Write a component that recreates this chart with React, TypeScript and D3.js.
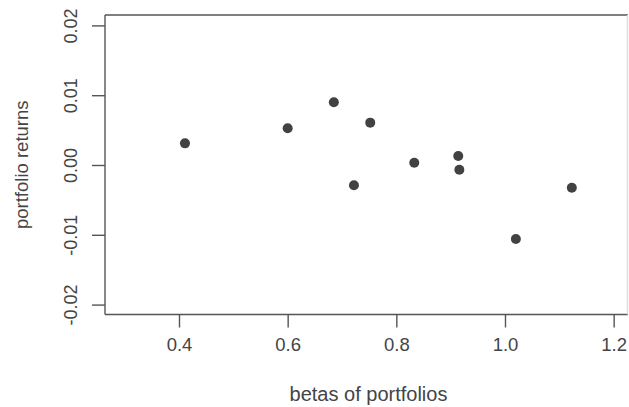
import React, { useEffect, useRef } from 'react'
import * as d3 from 'd3'

// betas and returns of the ten portfolios
const betas = [0.411, 0.6, 0.685, 0.722, 0.752, 0.833, 0.914, 0.916, 1.02, 1.123]
const returns = [0.0031, 0.00526, 0.009, -0.0029, 0.00607, 0.00033, 0.00129, -0.00067, -0.0106, -0.00325]

const xTicks = [0.4, 0.6, 0.8, 1.0, 1.2]
const yTicks = [-0.02, -0.01, 0.0, 0.01, 0.02]

const W = 629
const H = 407
const INK = '#444'
const FONT = '"Liberation Sans", Arial, sans-serif'

const App = () => {
  const ref = useRef<SVGSVGElement>(null)

  useEffect(() => {
    const svg = d3.select(ref.current)
    svg.selectAll('*').remove()

    const left = 105,
      right = 628,
      top = 15,
      bottom = 314.5

    const x = d3.scaleLinear().domain([0.2638, 1.2264]).range([left, right])
    const y = d3.scaleLinear().domain([-0.02142, 0.02149]).range([bottom, top])

    svg.append('rect').attr('width', W).attr('height', H).attr('fill', '#fff')

    // plot box (right edge is cut off in the original, so drawn faint)
    const box = svg.append('g').attr('stroke', '#555').attr('stroke-width', 1.4).attr('fill', 'none')
    box.append('line').attr('x1', left).attr('x2', right).attr('y1', top).attr('y2', top)
    box.append('line').attr('x1', left).attr('x2', right).attr('y1', bottom).attr('y2', bottom)
    box.append('line').attr('x1', left).attr('x2', left).attr('y1', top).attr('y2', bottom)
    box
      .append('line')
      .attr('x1', right - 0.5)
      .attr('x2', right - 0.5)
      .attr('y1', top)
      .attr('y2', bottom)
      .attr('stroke', '#ddd')

    // x axis
    const xAxis = svg
      .append('g')
      .attr('transform', `translate(0,${bottom})`)
      .call(
        d3
          .axisBottom(x)
          .tickValues(xTicks)
          .tickSize(13)
          .tickPadding(10)
          .tickFormat((d) => (+d).toFixed(1))
      )
    xAxis.select('.domain').remove()
    xAxis.selectAll('line').attr('stroke', '#555').attr('stroke-width', 1.4)
    xAxis
      .selectAll('text')
      .attr('fill', INK)
      .attr('font-size', 18.5)
      .attr('font-family', FONT)

    // y axis, labels rotated like R's default
    const yAxis = svg
      .append('g')
      .attr('transform', `translate(${left},0)`)
      .call(d3.axisLeft(y).tickValues(yTicks).tickSize(13).tickFormat((d) => (+d).toFixed(2)))
    yAxis.select('.domain').remove()
    yAxis.selectAll('line').attr('stroke', '#555').attr('stroke-width', 1.4)
    yAxis
      .selectAll('text')
      .attr('fill', INK)
      .attr('font-size', 18)
      .attr('font-family', FONT)
      .attr('x', null)
      .attr('dy', null)
      .attr('text-anchor', 'middle')
      .attr('transform', 'translate(-28,0) rotate(-90)')

    // axis titles
    svg
      .append('text')
      .attr('x', (left + right) / 2 + 2)
      .attr('y', 401)
      .attr('text-anchor', 'middle')
      .attr('fill', INK)
      .attr('font-size', 20)
      .attr('font-family', FONT)
      .text('betas of portfolios')

    svg
      .append('text')
      .attr('transform', `translate(28,${(top + bottom) / 2}) rotate(-90)`)
      .attr('text-anchor', 'middle')
      .attr('fill', INK)
      .attr('font-size', 18.5)
      .attr('font-family', FONT)
      .text('portfolio returns')

    // points
    svg
      .append('g')
      .selectAll('circle')
      .data(betas)
      .join('circle')
      .attr('cx', (d) => x(d))
      .attr('cy', (d, i) => y(returns[i]))
      .attr('r', 5)
      .attr('fill', '#424242')
  }, [])

  return (
    <svg
      ref={ref}
      width={W}
      height={H}
      style={{ position: 'absolute', left: 0, top: 0 }}
    />
  )
}

export default App
